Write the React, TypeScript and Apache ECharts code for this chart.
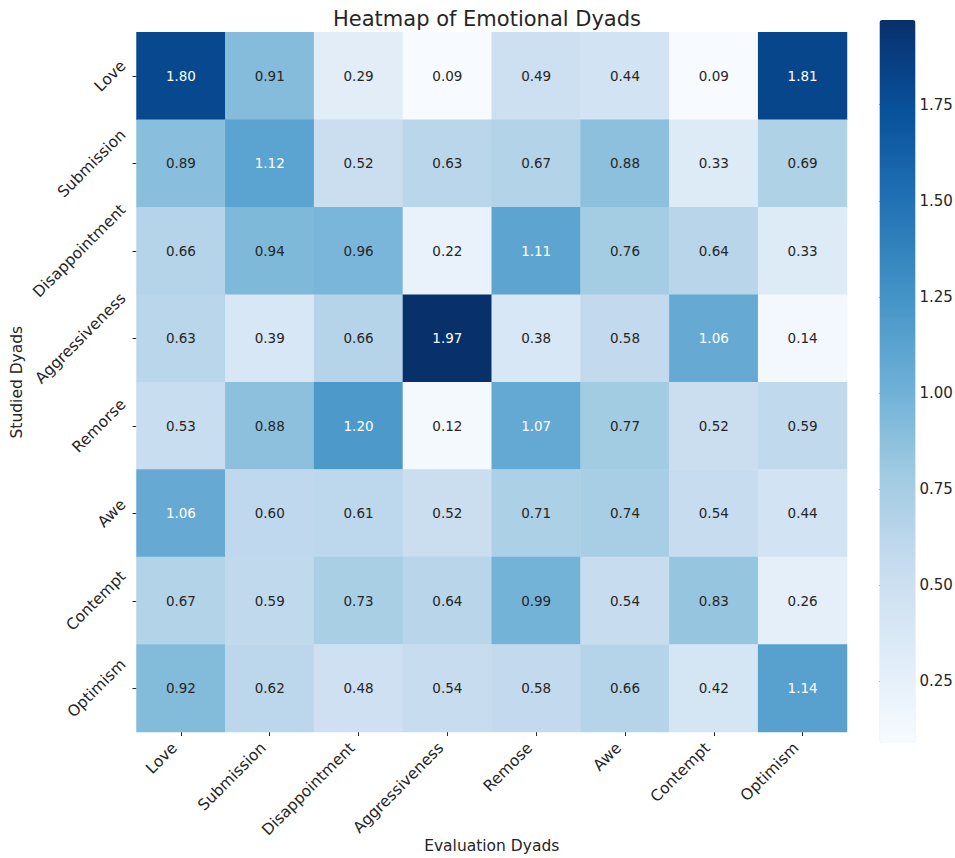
import React, { useEffect, useRef } from "react";
import * as echarts from "echarts";

const evaluationDyads = ["Love", "Submission", "Disappointment", "Aggressiveness", "Remose", "Awe", "Contempt", "Optimism"];
const studiedDyads = ["Love", "Submission", "Disappointment", "Aggressiveness", "Remorse", "Awe", "Contempt", "Optimism"];

// one row per studied dyad, one value per evaluation dyad
const rowLove = [1.80, 0.91, 0.29, 0.09, 0.49, 0.44, 0.09, 1.81];
const rowSubmission = [0.89, 1.12, 0.52, 0.63, 0.67, 0.88, 0.33, 0.69];
const rowDisappointment = [0.66, 0.94, 0.96, 0.22, 1.11, 0.76, 0.64, 0.33];
const rowAggressiveness = [0.63, 0.39, 0.66, 1.97, 0.38, 0.58, 1.06, 0.14];
const rowRemorse = [0.53, 0.88, 1.20, 0.12, 1.07, 0.77, 0.52, 0.59];
const rowAwe = [1.06, 0.60, 0.61, 0.52, 0.71, 0.74, 0.54, 0.44];
const rowContempt = [0.67, 0.59, 0.73, 0.64, 0.99, 0.54, 0.83, 0.26];
const rowOptimism = [0.92, 0.62, 0.48, 0.54, 0.58, 0.66, 0.42, 1.14];

const colorbarTicks = [0.25, 0.5, 0.75, 1.0, 1.25, 1.5, 1.75];

const blues = ["#f7fbff", "#deebf7", "#c6dbef", "#9ecae1", "#6baed6", "#4292c6", "#2171b5", "#08519c", "#08306b"];
const FONT = "DejaVu Sans";
const TEXT = "#262626";
const TICK_FONT = 15.5;

const GRID_LEFT = 136.5;
const GRID_RIGHT = 108;
const GRID_TOP = 32.3;
const GRID_BOTTOM = 126;

function measure(text: string, size: number): number {
  const ctx = document.createElement("canvas").getContext("2d");
  if (!ctx) return text.length * size * 0.6;
  ctx.font = `${size}px "${FONT}"`;
  return ctx.measureText(text).width;
}

export default function App() {
  const ref = useRef<HTMLDivElement>(null);

  useEffect(() => {
    if (!ref.current) return;
    const chart = echarts.init(ref.current, null, { renderer: "svg" });

    const rows = [rowLove, rowSubmission, rowDisappointment, rowAggressiveness, rowRemorse, rowAwe, rowContempt, rowOptimism];
    const all = rows.flat();
    const vMin = Math.min(...all);
    const vMax = Math.max(...all);

    const data: any[] = [];
    rows.forEach((row, yi) => {
      row.forEach((v, xi) => {
        data.push({
          value: [xi, yi, v],
          label: { color: v > 1.0 ? "#ffffff" : TEXT },
        });
      });
    });

    chart.setOption({
      animation: false,
      backgroundColor: "#ffffff",
      textStyle: { fontFamily: FONT },
      title: {
        text: "Heatmap of Emotional Dyads",
        left: 482,
        textAlign: "center",
        top: 3,
        textStyle: { fontFamily: FONT, fontSize: 21, fontWeight: "normal", color: TEXT },
      },
      grid: [
        { left: GRID_LEFT, right: GRID_RIGHT, top: GRID_TOP, bottom: GRID_BOTTOM, outerBoundsMode: "none" },
        { left: 879.5, width: 36, top: 20, height: 723, outerBoundsMode: "none" },
      ],
      xAxis: [
        {
          type: "category",
          gridIndex: 0,
          data: evaluationDyads,
          name: "Evaluation Dyads",
          nameLocation: "middle",
          nameGap: 106,
          nameMoveOverlap: false,
          nameTextStyle: { fontFamily: FONT, fontSize: TICK_FONT, color: TEXT },
          axisLine: { show: false },
          axisTick: { show: true, alignWithLabel: true, length: 4, lineStyle: { color: TEXT } },
          axisLabel: {
            rotate: 45,
            fontFamily: FONT,
            fontSize: TICK_FONT,
            color: TEXT,
            margin: 7,
            padding: [0, 9, 0, 0],
          },
          splitLine: { show: false },
        },
        {
          type: "value",
          gridIndex: 1,
          show: false,
          min: 0,
          max: 1,
        },
      ],
      yAxis: [
        {
          type: "category",
          gridIndex: 0,
          inverse: true,
          data: studiedDyads,
          name: "Studied Dyads",
          nameLocation: "middle",
          nameGap: 112,
          nameMoveOverlap: false,
          nameRotate: 90,
          nameTextStyle: { fontFamily: FONT, fontSize: TICK_FONT, color: TEXT },
          axisLine: { show: false },
          axisTick: { show: true, alignWithLabel: true, length: 4, lineStyle: { color: TEXT } },
          axisLabel: { show: false },
          splitLine: { show: false },
        },
        {
          type: "value",
          gridIndex: 1,
          position: "right",
          min: vMin,
          max: vMax,
          axisLine: { show: false },
          splitLine: { show: false },
          axisTick: {
            show: true,
            length: 4,
            customValues: colorbarTicks,
            lineStyle: { color: TEXT },
          },
          axisLabel: {
            customValues: colorbarTicks,
            formatter: (v: number) => v.toFixed(2),
            fontFamily: FONT,
            fontSize: 15,
            color: TEXT,
            margin: 4,
          },
        },
      ],
      visualMap: {
        type: "continuous",
        seriesIndex: 0,
        min: vMin,
        max: vMax,
        calculable: false,
        hoverLink: false,
        left: 879.5,
        top: 20,
        padding: 0,
        itemWidth: 36,
        itemHeight: 723,
        showLabel: false,
        text: null,
        inRange: { color: blues },
      },
      series: [
        {
          type: "heatmap",
          xAxisIndex: 0,
          yAxisIndex: 0,
          data,
          label: {
            show: true,
            fontFamily: FONT,
            fontSize: 13.5,
            formatter: (p: any) => (p.value[2] as number).toFixed(2),
          },
          itemStyle: { borderWidth: 0 },
          emphasis: { disabled: true },
        },
      ],
    });

    // Row labels: rotated 45°, with the rotated box right-aligned to the
    // ticks and vertically centred on each row.
    const lineH = TICK_FONT * 1.16;
    const gap = 7;
    const rowLabels = studiedDyads.map((name) => {
      const py = chart.convertToPixel({ yAxisIndex: 0 }, name) as number;
      const w = measure(name, TICK_FONT);
      const half = (w + lineH) / (2 * Math.SQRT2);
      return {
        type: "text",
        x: GRID_LEFT - gap - half,
        y: py,
        rotation: Math.PI / 4,
        silent: true,
        style: {
          text: name,
          fontFamily: FONT,
          fontSize: TICK_FONT,
          fill: TEXT,
          align: "center",
          verticalAlign: "middle",
        },
      };
    });
    chart.setOption({ graphic: rowLabels });

    return () => chart.dispose();
  }, []);

  return <div ref={ref} style={{ position: "fixed", left: 0, top: 0, width: 955, height: 858 }} />;
}
